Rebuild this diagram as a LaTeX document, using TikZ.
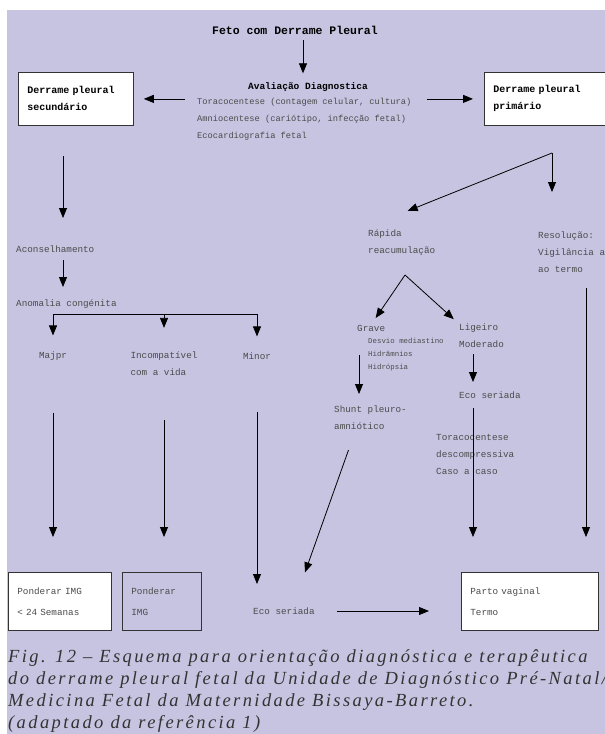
\documentclass[tikz,border=0pt]{standalone}
\usepackage{fontspec}
\setmainfont{Liberation Serif}
\newfontfamily\flowfont{Liberation Mono}
\newfontfamily\capfont[LetterSpace=13]{Liberation Serif}
\usetikzlibrary{arrows.meta}
\definecolor{lilac}{RGB}{199,196,225}
\definecolor{inkgray}{RGB}{75,75,75}

\begin{document}
\begin{tikzpicture}[x=1pt,y=-1pt,
  every node/.style={inner sep=0pt},
  flow/.style={font=\flowfont\fontsize{9.3}{17}\selectfont, text=inkgray, align=left, anchor=west},
  note/.style={font=\flowfont\fontsize{7.4}{13}\selectfont, text=inkgray, align=left, anchor=west},
  heading/.style={font=\flowfont\bfseries\fontsize{10}{17}\selectfont, align=left},
  topbox/.style={heading, draw=black!80, fill=white, line width=.8pt, anchor=north west, inner xsep=9pt, minimum height=53pt},
  endbox/.style={flow, font=\flowfont\fontsize{9.3}{21}\selectfont, draw=black!80, line width=.8pt, anchor=north west, inner xsep=9pt, minimum height=58pt},
  arr/.style={-{Triangle[length=10pt,width=8pt]}, line width=.8pt}]
\useasboundingbox (0,0) rectangle (605,734);
\fill[lilac] (7,10) rectangle (605,734);

\node[font=\flowfont\bfseries\fontsize{11.5}{14}\selectfont] (feto) at (295,30) {Feto com Derrame Pleural};
\node[font=\flowfont\bfseries\fontsize{9.5}{12}\selectfont] (aval) at (308,87) {Avaliação Diagnostica};
\node[flow, font=\flowfont\fontsize{8.7}{17}\selectfont] (exames) at (197,119) {Toracocentese (contagem celular, cultura)\\Amniocentese (cariótipo, infecção fetal)\\Ecocardiografia fetal};
\node[topbox, text width=97pt] (secund) at (18,72) {Derrame pleural\\secundário};
\node[topbox, text width=112pt] (primar) at (484,72) {Derrame pleural\\primário};

\node[flow] (acons) at (16,249) {Aconselhamento};
\node[flow] (anomal) at (16,304) {Anomalia congénita};
\node[flow, anchor=center] (majpr) at (53,356) {Majpr};
\node[flow, anchor=center] (incomp) at (164,364) {Incompatível\\com a vida};
\node[flow, anchor=center] (minor) at (257,356) {Minor};

\node[flow] (rapida) at (368,243) {Rápida\\reacumulação};
\node[flow] (resol) at (538,252) {Resolução:\\Vigilância até\\ao termo};
\node[flow] (grave) at (357,328) {Grave};
\node[note] (sinais) at (368,355) {Desvio mediastino\\Hidrâmnios\\Hidrópsia};
\node[flow] (ligeiro) at (459,336) {Ligeiro\\Moderado};
\node[flow] (eco) at (459,395) {Eco seriada};
\node[flow] (shunt) at (334,418) {Shunt pleuro-\\amniótico};
\node[flow] (toraco) at (436,454) {Toracocentese\\descompressiva\\Caso a caso};

\node[endbox, fill=white, text width=85pt] (img24) at (8,572) {Ponderar IMG\\< 24 Semanas};
\node[endbox, text width=61pt] (img) at (122,572) {Ponderar\\IMG};
\node[flow] (ecofim) at (253,611) {Eco seriada};
\node[endbox, fill=white, text width=119pt] (parto) at (461,572) {Parto vaginal\\Termo};

\node[anchor=west, align=left, font=\capfont\itshape\fontsize{18.5}{22}\selectfont, text=black!80] (legenda) at (8,691) {Fig. 12 – Esquema para orientação diagnóstica e terapêutica\\do derrame pleural fetal da Unidade de Diagnóstico Pré-Natal/\\Medicina Fetal da Maternidade Bissaya-Barreto.\\(adaptado da referência 1)};

\coordinate (titlecol) at (303,0);
\coordinate (leftcol) at (63,0);
\coordinate (fork) at (164,314);
\coordinate (split) at (552,153);
\coordinate (fan) at (405,275);
\coordinate (gravecol) at (359,0);
\coordinate (midcol) at (473,0);
\coordinate (rightcol) at (586,0);

\draw[arr, shorten <=6pt, shorten >=9pt] (titlecol |- feto.south) -- (titlecol |- aval.north);
\draw[arr, shorten <=12pt, shorten >=10pt] (exames.west |- secund.east) -- (secund.east);
\draw[arr, shorten <=16pt, shorten >=11pt] (exames.east |- primar.west) -- (primar.west);
\draw[arr, shorten <=30pt, shorten >=31pt] (leftcol |- secund.south) -- (leftcol |- acons);
\draw[arr, shorten <=11pt, shorten >=17pt] (leftcol |- acons) -- (leftcol |- anomal);
\draw[line width=.8pt] (majpr |- fork) -- (minor |- fork);
\draw[arr, shorten >=16pt] (majpr |- fork) -- (majpr);
\draw[arr, shorten >=24pt] (incomp |- fork) -- (incomp);
\draw[arr, shorten >=16pt] (minor |- fork) -- (minor);
\draw[arr, shorten <=52pt, shorten >=35pt] (majpr) -- (majpr |- img24.north);
\draw[arr, shorten <=44pt, shorten >=35pt] (incomp) -- (incomp |- img.north);
\draw[arr, shorten <=52pt, shorten >=27pt] (minor) -- (minor |- ecofim);

\draw[arr, shorten >=60pt] (split) -- (split |- resol);
\draw[arr] (split) -- ([shift={(6,-19)}]rapida.north);
\draw[arr, shorten >=8pt] (fan) -- (grave.north);
\draw[arr, shorten >=7pt] (fan) -- (ligeiro.north west);
\draw[arr, shorten <=27pt, shorten >=24pt] (gravecol |- grave) -- (gravecol |- shunt);
\draw[arr, shorten <=18pt, shorten >=13pt] (midcol |- ligeiro) -- (midcol |- eco);
\draw[arr, shorten <=13pt, shorten >=35pt] (midcol |- eco) -- (midcol |- parto.north);
\draw[arr, shorten <=36pt, shorten >=35pt] (rightcol |- resol) -- (rightcol |- parto.north);
\draw[arr] ([shift={(-22,20)}]shunt.south) -- ([shift={(52,-35)}]ecofim.north west);
\draw[arr, shorten <=22pt, shorten >=32pt] (ecofim.east) -- (ecofim.east -| parto.west);
\end{tikzpicture}
\end{document}
